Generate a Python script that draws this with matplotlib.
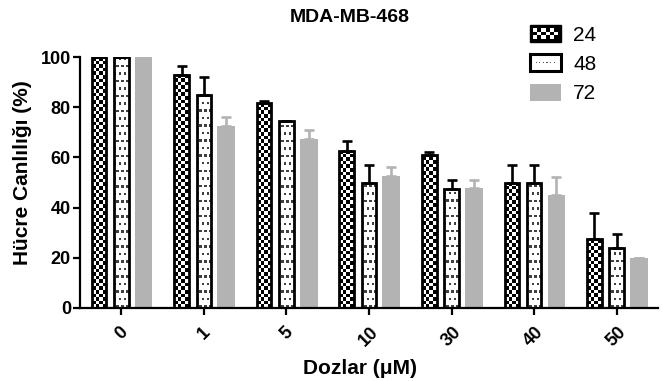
import numpy as np
import matplotlib
matplotlib.use("Agg")
import matplotlib.pyplot as plt
from matplotlib.patches import Rectangle, Patch
from matplotlib.legend_handler import HandlerBase

plt.rcParams['font.family'] = ['Liberation Sans', 'DejaVu Sans']

# data
doses = ['0', '1', '5', '10', '30', '40', '50']
series = ['24', '48', '72']
v24 = [100, 93, 81.5, 62.5, 61, 50, 27.5]
e24 = [0, 3.5, 1, 4, 1, 7, 10.5]
v48 = [100, 85, 74.5, 50, 47.5, 50, 24]
e48 = [0, 7, 0, 7, 3.5, 7, 5.5]
v72 = [100, 72.5, 67.5, 52.5, 48, 45, 20]
e72 = [0, 3.5, 3.5, 3.5, 3, 7, 0]

GRAY = '#b3b3b3'


def checker(rows, cols):
    r, c = np.indices((rows, cols))
    return ((r + c) % 2).astype(float)


def dots(rows, cols):
    r, c = np.indices((rows, cols))
    a = np.ones((rows, cols))
    a[(r % 3 == 0) & ((c + r // 3) % 2 == 0)] = 0.25
    return a


class CheckerHandler(HandlerBase):
    def create_artists(self, legend, orig_handle, xdescent, ydescent,
                       width, height, fontsize, trans):
        x0, y0 = -xdescent, -ydescent
        out = [Rectangle((x0, y0), width, height, facecolor='black',
                         edgecolor='black', lw=1, transform=trans)]
        n = 6
        cw = (width - 4) / n
        ch = (height - 4) / 3
        for i in range(n):
            for j in range(3):
                if (i + j) % 2 == 0:
                    out.append(Rectangle((x0 + 2 + i * cw, y0 + 2 + j * ch), cw, ch,
                                         facecolor='white', lw=0, transform=trans))
        return out


class DotHandler(HandlerBase):
    def create_artists(self, legend, orig_handle, xdescent, ydescent,
                       width, height, fontsize, trans):
        x0, y0 = -xdescent, -ydescent
        out = [Rectangle((x0, y0), width, height, facecolor='white',
                         edgecolor='black', lw=2.2, transform=trans)]
        for i in range(6):
            out.append(Rectangle((x0 + 4 + i * (width - 8) / 5.5, y0 + height / 2 - 0.4),
                                 0.8, 0.8, facecolor='#555555', lw=0, transform=trans))
        return out


fig = plt.figure(figsize=(6.65, 3.81), dpi=100)
ax = fig.add_axes([80 / 665, 1 - 308 / 381, 578 / 665, 251 / 381])

x = np.arange(len(doses))
off = 0.27
wb = 0.175
wg = 0.215

for vals, errs, dx, pat in [(v24, e24, -off, 'checker'), (v48, e48, 0, 'dots')]:
    bars = ax.bar(x + dx, vals, width=wb, facecolor='none', edgecolor='black',
                  linewidth=2.0, zorder=3)
    ax.errorbar(x + dx, vals, yerr=[np.zeros(len(errs)), errs], fmt='none',
                ecolor='black', elinewidth=1.9, capsize=3.4, capthick=1.9, zorder=2.5)
    for b in bars:
        bx = b.get_x()
        if pat == 'checker':
            img = checker(70, 4)
        else:
            img = dots(100, 6)
        im = ax.imshow(img, extent=(bx, bx + wb, 0, 100), cmap='gray', vmin=0, vmax=1,
                       aspect='auto', interpolation='nearest', zorder=2)
        im.set_clip_path(b)

ax.bar(x + off, v72, width=wg, color=GRAY, linewidth=0, zorder=2)
ax.errorbar(x + off, v72, yerr=[np.zeros(len(e72)), e72], fmt='none',
            ecolor=GRAY, elinewidth=1.9, capsize=3.4, capthick=1.9, zorder=1.9)

ax.set_xlim(-0.5, 6.5)
ax.set_ylim(0, 100)
ax.set_xticks(x)
ax.set_xticklabels(doses, rotation=45, ha='center', fontsize=13, fontweight='bold')
ax.set_yticks([0, 20, 40, 60, 80, 100])
ax.set_yticklabels(['0', '20', '40', '60', '80', '100'], fontsize=13, fontweight='bold')
for s in ['top', 'right']:
    ax.spines[s].set_visible(False)
for s in ['left', 'bottom']:
    ax.spines[s].set_linewidth(1.6)
ax.tick_params(direction='out', length=5, width=1.6, pad=1.5)
ax.tick_params(axis='x', pad=6)

fig.text(23 / 665, 1 - 173 / 381, 'Hücre Canlılığı (%)', rotation=90, ha='center',
         va='center', fontsize=15, fontweight='bold')
fig.text(360 / 665, 1 - 368 / 381, 'Dozlar (μM)', ha='center', va='center',
         fontsize=15, fontweight='bold')
fig.text(350 / 665, 1 - 18 / 381, 'MDA-MB-468', ha='center', va='center',
         fontsize=14, fontweight='bold')

h24 = Patch()
h48 = Patch(facecolor='white')
h72 = Patch(facecolor=GRAY, edgecolor='none')
fig.legend([h24, h48, h72], series, loc='upper left',
           bbox_to_anchor=(530 / 665, 1 - 25 / 381), bbox_transform=fig.transFigure,
           frameon=False, fontsize=15, borderpad=0, borderaxespad=0,
           handlelength=1.49, handleheight=0.86, handletextpad=0.58, labelspacing=0.47,
           handler_map={h24: CheckerHandler(), h48: DotHandler()})

fig.savefig('out.png', dpi=100)
